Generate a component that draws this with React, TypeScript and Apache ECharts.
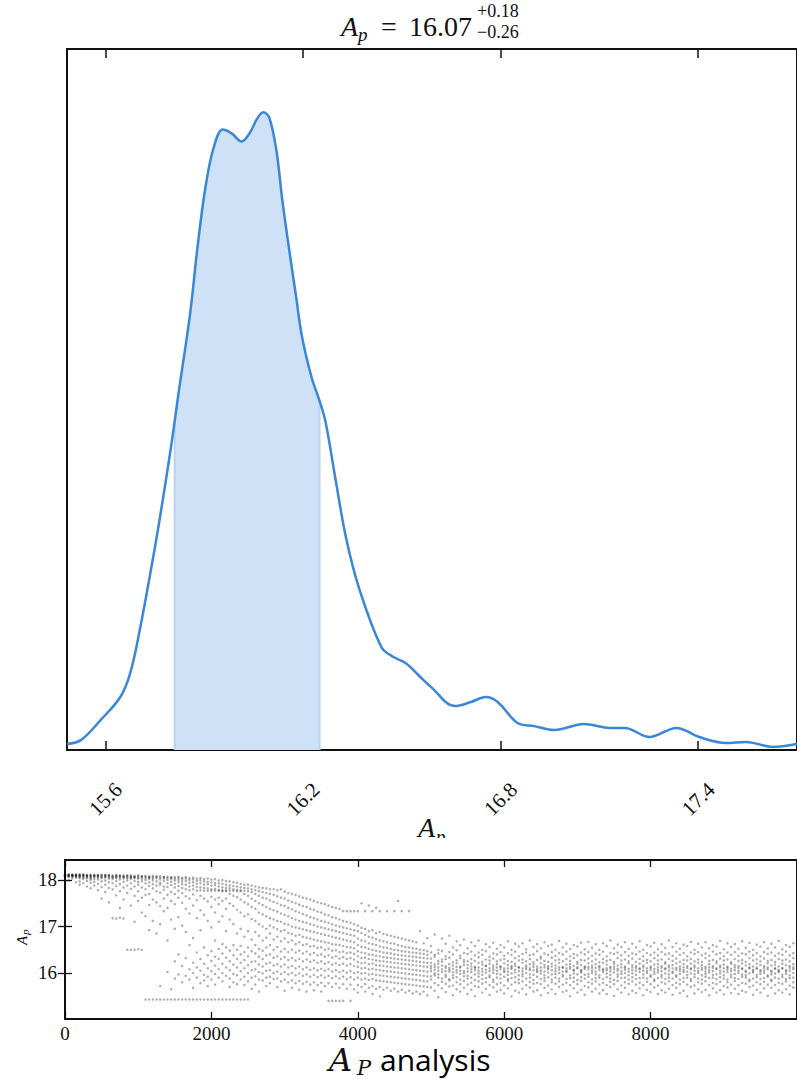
import React, { useEffect, useRef } from "react";
import * as echarts from "echarts";

// ---- Top panel: posterior density of A_p ----
const kdeX = [15.483, 15.525, 15.585, 15.645, 15.675, 15.704, 15.734, 15.764, 15.796, 15.81, 15.82, 15.857, 15.88, 15.902, 15.926, 15.956, 15.983, 16.013, 16.037, 16.061, 16.079, 16.097, 16.119, 16.137, 16.158, 16.179, 16.197, 16.227, 16.25, 16.269, 16.299, 16.33, 16.369, 16.438, 16.475, 16.511, 16.55, 16.589, 16.661, 16.71, 16.755, 16.791, 16.851, 16.902, 16.963, 17.053, 17.132, 17.177, 17.252, 17.334, 17.403, 17.484, 17.545, 17.626, 17.7];
const kdeY = [0.023, 0.038, 0.115, 0.204, 0.296, 0.462, 0.666, 0.885, 1.143, 1.266, 1.359, 1.682, 1.944, 2.155, 2.309, 2.39, 2.375, 2.344, 2.375, 2.433, 2.456, 2.437, 2.309, 2.117, 1.925, 1.744, 1.59, 1.43, 1.345, 1.259, 1.039, 0.82, 0.627, 0.396, 0.358, 0.335, 0.289, 0.242, 0.169, 0.185, 0.204, 0.185, 0.104, 0.092, 0.077, 0.1, 0.085, 0.085, 0.05, 0.085, 0.05, 0.027, 0.031, 0.012, 0.023];
const apMedian = 16.07;
const apLow = 15.81;
const apHigh = 16.25;
const topTicks = [15.6, 16.2, 16.8, 17.4];

// ---- Bottom panel: MCMC trace of A_p (step, values seen at that step) ----
const bottomXTicks = [0, 2000, 4000, 6000, 8000];
const bottomYTicks = [16, 17, 18];
const traceSamples: [number, number[]][] = [
  [0, [18.1, 18.11, 18.09, 18.12, 18.1, 18.08, 18.11, 18.07]],
  [50, [18.11, 18.09, 18.1, 18.12, 18.08, 18.1, 18.06, 17.99]],
  [100, [18.1, 18.12, 18.08, 18.09, 18.11, 18.1, 18.07, 18.03]],
  [150, [18.09, 18.11, 18.1, 18.07, 18.12, 18.08, 18.05, 17.95]],
  [200, [18.1, 18.08, 18.11, 18.09, 18.06, 18.12, 18.04, 17.97, 17.9]],
  [250, [18.11, 18.09, 18.07, 18.1, 18.05, 18.12, 18.02, 17.93]],
  [300, [18.1, 18.08, 18.06, 18.11, 18.09, 18.04, 17.98, 17.86]],
  [350, [18.09, 18.11, 18.07, 18.1, 18.05, 18.03, 17.94, 17.82, 18.0]],
  [400, [18.1, 18.08, 18.11, 18.06, 18.09, 18.02, 17.96, 17.88]],
  [450, [18.11, 18.07, 18.09, 18.05, 18.1, 18.01, 17.92, 17.78]],
  [500, [18.1, 18.08, 18.06, 18.11, 18.04, 17.97, 17.85, 17.6]],
  [550, [18.09, 18.11, 18.07, 18.05, 18.1, 17.99, 17.9, 17.74]],
  [600, [18.1, 18.08, 18.06, 18.03, 18.11, 17.95, 17.83, 17.52]],
  [650, [18.08, 18.1, 18.05, 18.07, 18.02, 17.93, 17.8, 17.18]],
  [700, [18.09, 18.11, 18.06, 18.04, 18.08, 17.98, 17.87, 17.67, 17.17]],
  [750, [18.1, 18.07, 18.05, 18.09, 18.01, 17.91, 17.76, 17.4, 17.19]],
  [800, [18.08, 18.1, 18.06, 18.03, 18.07, 17.96, 17.84, 17.58, 17.17]],
  [850, [18.09, 18.06, 18.1, 18.04, 17.99, 17.88, 17.72, 16.5]],
  [900, [18.08, 18.05, 18.1, 18.02, 18.06, 17.93, 17.81, 17.45, 16.5]],
  [950, [18.07, 18.09, 18.04, 18.06, 17.98, 17.86, 17.66, 17.1, 16.5]],
  [1000, [18.08, 18.05, 18.1, 18.03, 17.96, 17.9, 17.76, 17.55, 16.51]],
  [1050, [18.09, 18.06, 18.02, 18.07, 17.97, 17.84, 17.62, 17.3, 16.5]],
  [1100, [18.07, 18.04, 18.09, 18.0, 17.93, 17.8, 17.68, 17.22, 15.43]],
  [1150, [18.08, 18.05, 18.02, 18.06, 17.95, 17.87, 17.7, 17.46, 16.92, 15.43]],
  [1200, [18.06, 18.09, 18.03, 17.99, 17.91, 17.82, 17.58, 17.12, 15.43]],
  [1250, [18.07, 18.04, 18.08, 17.97, 17.88, 17.76, 17.52, 16.85, 15.43]],
  [1300, [18.05, 18.08, 18.01, 17.94, 17.9, 17.73, 17.44, 17.05, 15.43, 15.72]],
  [1350, [18.06, 18.03, 18.07, 17.98, 17.86, 17.79, 17.6, 17.33, 15.43]],
  [1400, [18.04, 18.07, 18.0, 17.93, 17.85, 17.68, 17.4, 16.7, 15.43, 16.02]],
  [1450, [18.05, 18.02, 18.06, 17.96, 17.89, 17.74, 17.55, 17.15, 15.43, 15.65]],
  [1500, [18.06, 18.03, 17.99, 17.92, 17.84, 17.7, 17.48, 16.95, 16.25, 15.43, 15.88]],
  [1550, [18.04, 18.07, 18.0, 17.95, 17.87, 17.77, 17.62, 17.2, 16.4, 15.43, 15.97]],
  [1600, [18.05, 18.02, 17.97, 17.91, 17.83, 17.72, 17.51, 17.02, 16.15, 15.43, 15.8]],
  [1650, [18.03, 18.06, 17.98, 17.9, 17.8, 17.65, 17.38, 16.88, 16.32, 15.94, 15.43]],
  [1700, [18.04, 18.0, 17.94, 17.86, 17.78, 17.6, 17.28, 16.6, 16.08, 15.86, 15.43]],
  [1750, [18.05, 18.01, 17.95, 17.88, 17.8, 17.69, 17.45, 16.75, 16.22, 16.0, 15.43, 15.68]],
  [1800, [18.03, 17.98, 17.92, 17.85, 17.77, 17.57, 17.18, 16.44, 16.12, 15.9, 15.43]],
  [1850, [18.04, 17.99, 17.93, 17.84, 17.78, 17.66, 17.35, 16.92, 16.3, 16.05, 15.78, 15.43]],
  [1900, [18.02, 17.97, 17.9, 17.83, 17.77, 17.6, 17.25, 16.55, 16.2, 15.96, 15.84, 15.43]],
  [1950, [18.03, 17.96, 17.91, 17.82, 17.77, 17.54, 17.12, 16.38, 16.1, 15.92, 15.72, 15.43]],
  [2000, [18.01, 17.95, 17.88, 17.8, 17.77, 17.64, 17.42, 16.98, 16.47, 16.26, 16.04, 15.86, 15.43]],
  [2050, [18.02, 17.94, 17.89, 17.81, 17.77, 17.58, 17.3, 16.7, 16.35, 16.16, 15.98, 15.75, 15.43]],
  [2100, [17.99, 17.93, 17.86, 17.79, 17.77, 17.62, 17.48, 17.1, 16.52, 16.3, 16.08, 15.9, 15.43]],
  [2150, [18.0, 17.92, 17.84, 17.78, 17.76, 17.55, 17.22, 16.62, 16.42, 16.2, 16.0, 15.82, 15.43]],
  [2200, [17.98, 17.9, 17.83, 17.78, 17.76, 17.6, 17.38, 16.9, 16.55, 16.33, 16.12, 15.94, 15.43]],
  [2250, [17.97, 17.88, 17.82, 17.77, 17.7, 17.5, 17.15, 16.48, 16.25, 16.06, 15.88, 15.7, 15.43]],
  [2300, [17.95, 17.87, 17.8, 17.77, 17.66, 17.44, 17.05, 16.6, 16.38, 16.18, 15.98, 15.8, 15.43]],
  [2350, [17.94, 17.86, 17.79, 17.76, 17.63, 17.36, 16.85, 16.5, 16.3, 16.12, 15.95, 15.76, 15.43]],
  [2400, [17.92, 17.84, 17.78, 17.76, 17.58, 17.3, 16.95, 16.58, 16.4, 16.22, 16.04, 15.86, 15.43]],
  [2450, [17.9, 17.83, 17.77, 17.7, 17.52, 17.22, 16.78, 16.45, 16.28, 16.1, 15.92, 15.74, 15.43]],
  [2500, [17.9, 17.82, 17.76, 17.66, 17.48, 17.26, 16.9, 16.55, 16.36, 16.17, 16.0, 15.82, 15.43]],
  [2550, [17.88, 17.8, 17.74, 17.6, 17.42, 17.16, 16.72, 16.47, 16.24, 16.06, 15.9, 15.66]],
  [2600, [17.86, 17.78, 17.7, 17.55, 17.38, 17.12, 16.88, 16.6, 16.42, 16.25, 16.08, 15.93, 15.75]],
  [2650, [17.84, 17.76, 17.66, 17.5, 17.3, 17.05, 16.8, 16.52, 16.35, 16.18, 16.02, 15.86, 15.6]],
  [2700, [17.83, 17.74, 17.62, 17.46, 17.26, 17.0, 16.7, 16.48, 16.3, 16.14, 15.99, 15.84]],
  [2750, [17.82, 17.72, 17.6, 17.42, 17.22, 16.95, 16.76, 16.55, 16.38, 16.2, 16.05, 15.9, 15.72]],
  [2800, [17.8, 17.7, 17.56, 17.38, 17.18, 17.02, 16.85, 16.6, 16.4, 16.22, 16.06, 15.92, 15.78]],
  [2850, [17.8, 17.68, 17.53, 17.35, 17.15, 16.98, 16.72, 16.5, 16.33, 16.16, 16.0, 15.87]],
  [2900, [17.78, 17.65, 17.5, 17.32, 17.12, 16.94, 16.78, 16.56, 16.36, 16.19, 16.03, 15.88, 15.7]],
  [2950, [17.8, 17.62, 17.46, 17.28, 17.1, 16.9, 16.68, 16.46, 16.3, 16.14, 15.98, 15.82]],
  [3000, [17.75, 17.6, 17.44, 17.25, 17.06, 16.92, 16.74, 16.52, 16.34, 16.18, 16.02, 15.86, 15.62]],
  [3050, [17.72, 17.56, 17.4, 17.22, 17.04, 16.86, 16.66, 16.45, 16.28, 16.12, 15.97, 15.8]],
  [3100, [17.7, 17.53, 17.37, 17.18, 17.0, 16.84, 16.7, 16.5, 16.32, 16.15, 16.0, 15.84, 15.68]],
  [3150, [17.68, 17.5, 17.33, 17.15, 16.98, 16.8, 16.62, 16.44, 16.27, 16.1, 15.95, 15.78]],
  [3200, [17.65, 17.47, 17.3, 17.12, 16.96, 16.82, 16.66, 16.48, 16.3, 16.14, 15.99, 15.83, 15.64]],
  [3250, [17.62, 17.44, 17.27, 17.1, 16.94, 16.78, 16.6, 16.42, 16.25, 16.08, 15.94, 15.77]],
  [3300, [17.6, 17.42, 17.24, 17.08, 16.92, 16.76, 16.62, 16.46, 16.29, 16.12, 15.97, 15.81, 15.6]],
  [3350, [17.58, 17.38, 17.2, 17.05, 16.9, 16.74, 16.57, 16.4, 16.24, 16.07, 15.92, 15.75]],
  [3400, [17.55, 17.36, 17.18, 17.03, 16.88, 16.72, 16.58, 16.43, 16.27, 16.1, 15.96, 15.8, 15.63]],
  [3450, [17.52, 17.32, 17.15, 17.0, 16.86, 16.7, 16.54, 16.38, 16.22, 16.06, 15.91, 15.74]],
  [3500, [17.5, 17.3, 17.12, 16.98, 16.84, 16.68, 16.55, 16.4, 16.25, 16.09, 15.95, 15.79, 15.6]],
  [3550, [17.48, 17.26, 17.1, 16.96, 16.82, 16.66, 16.5, 16.35, 16.2, 16.05, 15.9, 15.72]],
  [3600, [17.45, 17.24, 17.08, 16.94, 16.8, 16.65, 16.52, 16.38, 16.23, 16.08, 15.94, 15.78, 15.4]],
  [3650, [17.42, 17.2, 17.05, 16.92, 16.78, 16.62, 16.48, 16.33, 16.18, 16.03, 15.89, 15.7, 15.4]],
  [3700, [17.4, 17.18, 17.02, 16.9, 16.76, 16.61, 16.49, 16.36, 16.21, 16.06, 15.93, 15.77, 15.4]],
  [3750, [17.38, 17.15, 17.0, 16.88, 16.74, 16.6, 16.45, 16.31, 16.17, 16.02, 15.88, 15.68, 15.4]],
  [3800, [17.33, 17.12, 16.98, 16.86, 16.72, 16.58, 16.46, 16.34, 16.2, 16.05, 15.92, 15.76, 15.4]],
  [3850, [17.33, 17.1, 16.96, 16.84, 16.7, 16.56, 16.43, 16.3, 16.16, 16.01, 15.87, 15.66]],
  [3900, [17.33, 17.08, 16.94, 16.82, 16.68, 16.55, 16.44, 16.32, 16.19, 16.04, 15.91, 15.75, 15.4]],
  [3950, [17.33, 17.05, 16.92, 16.8, 16.66, 16.53, 16.41, 16.29, 16.15, 16.0, 15.86, 15.65]],
  [4000, [17.33, 17.02, 16.9, 16.74, 16.6, 16.47, 16.36, 16.24, 16.13, 16.02, 15.9, 15.74, 15.58]],
  [4050, [17.5, 16.97, 16.86, 16.7, 16.56, 16.44, 16.32, 16.21, 16.1, 15.99, 15.86, 15.7]],
  [4100, [17.33, 16.95, 16.82, 16.68, 16.55, 16.43, 16.33, 16.22, 16.11, 16.0, 15.88, 15.76, 15.6]],
  [4150, [17.45, 16.9, 16.78, 16.64, 16.52, 16.4, 16.3, 16.19, 16.08, 15.97, 15.85, 15.68]],
  [4200, [17.33, 16.92, 16.76, 16.62, 16.5, 16.39, 16.29, 16.2, 16.09, 15.98, 15.87, 15.72, 15.55]],
  [4250, [17.4, 16.86, 16.73, 16.6, 16.48, 16.37, 16.27, 16.17, 16.07, 15.96, 15.84, 15.66]],
  [4300, [17.33, 16.88, 16.7, 16.57, 16.46, 16.36, 16.26, 16.16, 16.06, 15.95, 15.83, 15.7, 15.5]],
  [4350, [16.84, 16.68, 16.55, 16.44, 16.34, 16.25, 16.15, 16.05, 15.94, 15.82, 15.64]],
  [4400, [17.33, 16.82, 16.66, 16.54, 16.43, 16.33, 16.24, 16.14, 16.04, 15.93, 15.81, 15.68]],
  [4450, [16.8, 16.64, 16.52, 16.42, 16.32, 16.23, 16.13, 16.03, 15.92, 15.8, 15.62]],
  [4500, [17.33, 16.78, 16.63, 16.5, 16.4, 16.31, 16.22, 16.12, 16.02, 15.91, 15.79, 15.66]],
  [4550, [17.55, 16.76, 16.6, 16.49, 16.39, 16.3, 16.21, 16.11, 16.01, 15.9, 15.78, 15.6]],
  [4600, [17.33, 16.74, 16.58, 16.47, 16.38, 16.29, 16.2, 16.1, 16.0, 15.89, 15.77, 15.64]],
  [4650, [16.72, 16.56, 16.46, 16.37, 16.28, 16.19, 16.09, 15.99, 15.88, 15.76, 15.58]],
  [4700, [17.33, 16.7, 16.55, 16.45, 16.36, 16.27, 16.18, 16.08, 15.98, 15.87, 15.75, 15.62]],
  [4750, [16.68, 16.53, 16.44, 16.35, 16.26, 16.17, 16.07, 15.97, 15.86, 15.74, 15.56]],
  [4800, [16.66, 16.52, 16.43, 16.34, 16.25, 16.16, 16.06, 15.96, 15.85, 15.73, 15.6]],
  [4850, [16.9, 16.5, 16.42, 16.33, 16.24, 16.15, 16.05, 15.95, 15.84, 15.72, 15.55]],
  [4900, [16.64, 16.49, 16.41, 16.32, 16.23, 16.14, 16.04, 15.94, 15.83, 15.71, 15.6]],
  [4950, [16.75, 16.47, 16.39, 16.31, 16.22, 16.13, 16.03, 15.93, 15.82, 15.7, 15.52]],
  [5000, [16.58, 16.44, 16.31, 16.22, 16.1, 16.04, 15.93, 15.86, 15.69, 16.15]],
  [5050, [16.83, 16.39, 16.35, 16.18, 16.13, 15.99, 15.95, 15.78, 15.62, 16.07]],
  [5100, [16.5, 16.42, 16.26, 16.2, 16.05, 15.97, 15.9, 15.74, 15.48, 16.12]],
  [5150, [16.74, 16.47, 16.29, 16.24, 16.08, 16.02, 15.88, 15.81, 15.67, 16.16]],
  [5200, [16.63, 16.36, 16.3, 16.15, 16.11, 15.96, 15.92, 15.77, 15.59, 16.04]],
  [5250, [16.8, 16.45, 16.33, 16.19, 16.07, 16.03, 15.87, 15.84, 15.71, 16.11]],
  [5300, [16.55, 16.4, 16.23, 16.16, 16.09, 15.95, 15.89, 15.73, 15.52, 16.02]],
  [5350, [16.68, 16.49, 16.27, 16.21, 16.06, 16.01, 15.91, 15.8, 15.65, 16.13]],
  [5400, [16.6, 16.37, 16.32, 16.14, 16.12, 15.98, 15.86, 15.76, 15.6, 16.05]],
  [5450, [16.72, 16.43, 16.28, 16.23, 16.04, 16.0, 15.93, 15.83, 15.68, 16.17]],
  [5500, [16.53, 16.41, 16.25, 16.17, 16.1, 15.94, 15.88, 15.75, 15.55, 16.03]],
  [5550, [16.66, 16.46, 16.3, 16.2, 16.08, 16.02, 15.9, 15.79, 15.64, 16.14]],
  [5600, [16.58, 16.38, 16.26, 16.13, 16.11, 15.97, 15.85, 15.72, 15.5, 16.06]],
  [5650, [16.7, 16.44, 16.34, 16.22, 16.05, 15.99, 15.92, 15.82, 15.7, 16.12]],
  [5700, [16.5, 16.39, 16.24, 16.18, 16.09, 15.96, 15.87, 15.77, 15.58, 16.03]],
  [5750, [16.62, 16.47, 16.29, 16.15, 16.07, 16.01, 15.89, 15.8, 15.66, 16.16]],
  [5800, [16.56, 16.35, 16.27, 16.2, 16.1, 15.95, 15.91, 15.74, 15.53, 16.04]],
  [5850, [16.65, 16.42, 16.31, 16.16, 16.06, 16.0, 15.86, 15.81, 15.69, 16.11]],
  [5900, [16.52, 16.4, 16.25, 16.19, 16.12, 15.98, 15.9, 15.76, 15.6, 16.05]],
  [5950, [16.6, 16.45, 16.28, 16.14, 16.08, 15.97, 15.88, 15.79, 15.64, 16.13]],
  [6000, [16.55, 16.37, 16.3, 16.21, 16.05, 16.02, 15.92, 15.73, 15.56, 16.1]],
  [6050, [16.68, 16.43, 16.26, 16.17, 16.1, 15.96, 15.87, 15.83, 15.67, 16.03]],
  [6100, [16.5, 16.39, 16.24, 16.15, 16.09, 15.99, 15.89, 15.75, 15.5, 16.12]],
  [6150, [16.63, 16.46, 16.32, 16.2, 16.07, 16.01, 15.91, 15.8, 15.62, 16.15]],
  [6200, [16.57, 16.36, 16.27, 16.13, 16.11, 15.95, 15.86, 15.78, 15.58, 16.04]],
  [6250, [16.64, 16.41, 16.29, 16.22, 16.04, 15.98, 15.93, 15.82, 15.66, 16.1]],
  [6300, [16.51, 16.44, 16.25, 16.16, 16.08, 16.0, 15.88, 15.74, 15.54, 16.12]],
  [6350, [16.7, 16.38, 16.3, 16.19, 16.1, 15.97, 15.9, 15.81, 15.69, 16.06]],
  [6400, [16.56, 16.4, 16.23, 16.18, 16.06, 15.96, 15.85, 15.77, 15.6, 16.13]],
  [6450, [16.62, 16.47, 16.28, 16.14, 16.09, 16.02, 15.92, 15.79, 15.63, 16.05]],
  [6500, [16.53, 16.35, 16.31, 16.21, 16.05, 15.99, 15.87, 15.76, 15.52, 16.12]],
  [6550, [16.66, 16.42, 16.26, 16.17, 16.12, 15.95, 15.89, 15.83, 15.68, 16.03]],
  [6600, [16.58, 16.39, 16.24, 16.15, 16.08, 16.01, 15.91, 15.73, 15.57, 16.11]],
  [6650, [16.61, 16.45, 16.33, 16.2, 16.06, 15.97, 15.86, 15.8, 15.65, 16.14]],
  [6700, [16.5, 16.37, 16.27, 16.16, 16.1, 15.98, 15.9, 15.77, 15.55, 16.04]],
  [6750, [16.69, 16.43, 16.29, 16.22, 16.07, 16.0, 15.88, 15.82, 15.7, 16.12]],
  [6800, [16.55, 16.4, 16.25, 16.13, 16.11, 15.96, 15.92, 15.75, 15.59, 16.03]],
  [6850, [16.63, 16.46, 16.3, 16.18, 16.05, 16.02, 15.87, 15.79, 15.62, 16.1]],
  [6900, [16.52, 16.36, 16.26, 16.19, 16.09, 15.95, 15.89, 15.74, 15.5, 16.13]],
  [6950, [16.6, 16.41, 16.32, 16.15, 16.07, 15.99, 15.9, 15.81, 15.67, 16.05]],
  [7000, [16.57, 16.38, 16.24, 16.2, 16.1, 15.97, 15.85, 15.76, 15.58, 16.12]],
  [7050, [16.65, 16.44, 16.28, 16.17, 16.06, 16.01, 15.91, 15.83, 15.64, 16.04]],
  [7100, [16.51, 16.4, 16.27, 16.14, 16.12, 15.96, 15.88, 15.72, 15.53, 16.09]],
  [7150, [16.67, 16.45, 16.31, 16.21, 16.08, 15.98, 15.92, 15.8, 15.69, 16.13]],
  [7200, [16.54, 16.37, 16.25, 16.16, 16.05, 16.0, 15.86, 15.77, 15.6, 16.11]],
  [7250, [16.62, 16.42, 16.29, 16.19, 16.11, 15.97, 15.89, 15.82, 15.66, 16.03]],
  [7300, [16.5, 16.39, 16.23, 16.15, 16.07, 15.95, 15.9, 15.75, 15.56, 16.12]],
  [7350, [16.64, 16.46, 16.3, 16.22, 16.09, 16.02, 15.87, 15.79, 15.63, 16.06]],
  [7400, [16.58, 16.36, 16.26, 16.18, 16.06, 15.99, 15.91, 15.74, 15.55, 16.1]],
  [7450, [16.7, 16.43, 16.28, 16.13, 16.1, 15.96, 15.88, 15.81, 15.7, 16.04]],
  [7500, [16.53, 16.41, 16.24, 16.2, 16.08, 16.01, 15.85, 15.76, 15.51, 16.13]],
  [7550, [16.61, 16.44, 16.32, 16.16, 16.05, 15.97, 15.92, 15.83, 15.65, 16.09]],
  [7600, [16.56, 16.38, 16.27, 16.19, 16.12, 15.98, 15.89, 15.73, 15.58, 16.04]],
  [7650, [16.66, 16.45, 16.29, 16.14, 16.07, 16.0, 15.9, 15.8, 15.68, 16.11]],
  [7700, [16.52, 16.37, 16.25, 16.21, 16.09, 15.95, 15.86, 15.77, 15.54, 16.03]],
  [7750, [16.63, 16.42, 16.31, 16.17, 16.06, 15.99, 15.91, 15.82, 15.62, 16.12]],
  [7800, [16.55, 16.4, 16.24, 16.15, 16.11, 15.96, 15.87, 15.75, 15.57, 16.05]],
  [7850, [16.68, 16.46, 16.3, 16.2, 16.08, 16.02, 15.89, 15.79, 15.67, 16.1]],
  [7900, [16.5, 16.36, 16.26, 16.16, 16.05, 15.97, 15.9, 15.74, 15.52, 16.12]],
  [7950, [16.6, 16.43, 16.28, 16.22, 16.1, 16.0, 15.88, 15.81, 15.64, 16.04]],
  [8000, [16.57, 16.39, 16.25, 16.14, 16.07, 15.95, 15.92, 15.76, 15.59, 16.11]],
  [8050, [16.65, 16.44, 16.32, 16.18, 16.09, 15.98, 15.86, 15.83, 15.69, 16.03]],
  [8100, [16.51, 16.38, 16.27, 16.19, 16.06, 16.01, 15.89, 15.73, 15.55, 16.12]],
  [8150, [16.62, 16.45, 16.29, 16.15, 16.11, 15.96, 15.91, 15.8, 15.63, 16.04]],
  [8200, [16.54, 16.4, 16.23, 16.2, 16.08, 15.99, 15.87, 15.77, 15.58, 16.1]],
  [8250, [16.7, 16.42, 16.3, 16.16, 16.05, 15.97, 15.9, 15.82, 15.66, 16.12]],
  [8300, [16.56, 16.37, 16.26, 16.17, 16.1, 16.0, 15.88, 15.74, 15.53, 16.03]],
  [8350, [16.64, 16.46, 16.31, 16.21, 16.07, 15.95, 15.92, 15.79, 15.68, 16.11]],
  [8400, [16.52, 16.39, 16.24, 16.14, 16.09, 15.98, 15.86, 15.76, 15.57, 16.05]],
  [8450, [16.61, 16.43, 16.28, 16.19, 16.06, 16.02, 15.89, 15.81, 15.62, 16.12]],
  [8500, [16.58, 16.36, 16.27, 16.15, 16.11, 15.96, 15.9, 15.75, 15.5, 16.03]],
  [8550, [16.67, 16.44, 16.3, 16.2, 16.08, 15.99, 15.87, 15.83, 15.7, 16.1]],
  [8600, [16.5, 16.41, 16.25, 16.16, 16.05, 15.97, 15.91, 15.73, 15.56, 16.12]],
  [8650, [16.63, 16.45, 16.29, 16.22, 16.1, 16.0, 15.88, 15.8, 15.65, 16.04]],
  [8700, [16.55, 16.38, 16.24, 16.17, 16.07, 15.95, 15.86, 15.77, 15.59, 16.11]],
  [8750, [16.66, 16.42, 16.32, 16.13, 16.09, 15.98, 15.92, 15.82, 15.64, 16.03]],
  [8800, [16.53, 16.37, 16.26, 16.19, 16.06, 16.01, 15.89, 15.74, 15.52, 16.12]],
  [8850, [16.6, 16.46, 16.28, 16.15, 16.11, 15.96, 15.9, 15.79, 15.67, 16.04]],
  [8900, [16.57, 16.4, 16.25, 16.21, 16.08, 15.97, 15.87, 15.76, 15.58, 16.1]],
  [8950, [16.69, 16.43, 16.31, 16.16, 16.05, 15.99, 15.91, 15.81, 15.63, 16.12]],
  [9000, [16.51, 16.36, 16.27, 16.18, 16.1, 15.95, 15.88, 15.72, 15.54, 16.03]],
  [9050, [16.64, 16.44, 16.29, 16.14, 16.07, 16.02, 15.86, 15.8, 15.69, 16.11]],
  [9100, [16.56, 16.39, 16.23, 16.2, 16.09, 15.96, 15.91, 15.75, 15.57, 16.04]],
  [9150, [16.62, 16.45, 16.3, 16.17, 16.06, 15.98, 15.89, 15.83, 15.66, 16.12]],
  [9200, [16.52, 16.37, 16.26, 16.15, 16.11, 16.0, 15.87, 15.74, 15.55, 16.05]],
  [9250, [16.68, 16.42, 16.28, 16.21, 16.08, 15.97, 15.92, 15.79, 15.62, 16.1]],
  [9300, [16.54, 16.4, 16.24, 16.16, 16.05, 15.95, 15.9, 15.77, 15.59, 16.02]],
  [9350, [16.65, 16.46, 16.32, 16.19, 16.1, 15.99, 15.86, 15.82, 15.7, 16.12]],
  [9400, [16.5, 16.38, 16.27, 16.14, 16.07, 16.01, 15.88, 15.73, 15.53, 16.04]],
  [9450, [16.61, 16.43, 16.29, 16.2, 16.09, 15.96, 15.91, 15.8, 15.64, 16.11]],
  [9500, [16.57, 16.36, 16.25, 16.17, 16.06, 15.98, 15.87, 15.76, 15.58, 16.03]],
  [9550, [16.66, 16.45, 16.31, 16.15, 16.11, 16.0, 15.89, 15.81, 15.67, 16.05]],
  [9600, [16.53, 16.41, 16.26, 16.21, 16.08, 15.95, 15.92, 15.75, 15.51, 16.12]],
  [9650, [16.63, 16.44, 16.28, 16.16, 16.05, 15.97, 15.86, 15.83, 15.68, 16.02]],
  [9700, [16.55, 16.37, 16.24, 16.18, 16.1, 15.99, 15.9, 15.74, 15.56, 16.09]],
  [9750, [16.69, 16.42, 16.3, 16.14, 16.07, 16.02, 15.88, 15.79, 15.63, 16.04]],
  [9800, [16.51, 16.39, 16.27, 16.2, 16.09, 15.96, 15.91, 15.77, 15.58, 16.11]],
  [9850, [16.6, 16.46, 16.29, 16.17, 16.06, 15.98, 15.87, 15.82, 15.65, 16.03]],
  [9900, [16.56, 16.38, 16.25, 16.15, 16.11, 15.95, 15.89, 15.73, 15.54, 16.05]],
  [9950, [16.64, 16.43, 16.32, 16.19, 16.08, 16.0, 15.9, 15.8, 15.69, 16.12]],
];

const SERIF = "Liberation Serif, DejaVu Serif, serif";
const MATH_ITALIC = "DejaVu Serif, Liberation Serif, serif";
const SANS = "Open Sans, Noto Sans, sans-serif";
const INK = "#111";

function ticksAxis(extra: any) {
  return {
    type: "value",
    splitLine: { show: false },
    axisLine: { show: false },
    ...extra,
  };
}

export default function App() {
  const ref = useRef<HTMLDivElement>(null);

  useEffect(() => {
    if (!ref.current) return;
    const chart = echarts.init(ref.current, null, { renderer: "svg" });

    const kdeData = kdeX.map((x, i) => [x, kdeY[i]]);
    const fillData = kdeData.filter((p) => p[0] >= apLow && p[0] <= apHigh);
    const lowIdx = kdeX.indexOf(apLow);
    const highIdx = kdeX.indexOf(apHigh);
    const scatterData: number[][] = [];
    traceSamples.forEach(([step, vals]) => vals.forEach((v) => scatterData.push([step, v])));

    const topTick = { inside: true, length: 9, lineStyle: { color: INK, width: 1.5 }, customValues: topTicks };
    const botTickX = { inside: true, length: 7, lineStyle: { color: INK, width: 1.3 }, customValues: bottomXTicks };
    const botTickY = { inside: true, length: 7, lineStyle: { color: INK, width: 1.3 }, customValues: bottomYTicks };

    const txt = (x: number, y: number, text: string, size: number, opts: any = {}) => ({
      type: "text",
      x,
      y,
      z: 50,
      style: {
        text,
        fontFamily: SERIF,
        fontSize: size,
        lineHeight: size,
        fill: INK,
        textAlign: "left",
        textVerticalAlign: "middle",
        ...opts,
      },
    });

    chart.setOption({
      animation: false,
      backgroundColor: "#fff",
      grid: [
        { left: 67, top: 49, width: 735, height: 701, show: true, borderColor: INK, borderWidth: 2 },
        { left: 65, top: 860, width: 737.5, height: 159, show: true, borderColor: INK, borderWidth: 2 },
      ],
      xAxis: [
        ticksAxis({
          gridIndex: 0,
          min: 15.483,
          max: 17.7,
          axisTick: topTick,
          axisLabel: {
            customValues: topTicks,
            rotate: 45,
            align: "center",
            verticalAlign: "middle",
            margin: 49,
            fontFamily: SERIF,
            fontSize: 21,
            color: INK,
          },
        }),
        ticksAxis({ gridIndex: 0, position: "top", min: 15.483, max: 17.7, axisTick: topTick, axisLabel: { show: false } }),
        ticksAxis({
          gridIndex: 1,
          min: 0,
          max: 10000,
          axisTick: botTickX,
          axisLabel: {
            customValues: bottomXTicks,
            formatter: (v: number) => String(v),
            margin: 5,
            fontFamily: SERIF,
            fontSize: 19,
            lineHeight: 19,
            color: INK,
          },
        }),
        ticksAxis({ gridIndex: 1, position: "top", min: 0, max: 10000, axisTick: botTickX, axisLabel: { show: false } }),
      ],
      yAxis: [
        ticksAxis({ gridIndex: 0, min: 0, max: 2.7, axisTick: { show: false }, axisLabel: { show: false } }),
        ticksAxis({
          gridIndex: 1,
          min: 15.01,
          max: 18.43,
          axisTick: botTickY,
          axisLabel: {
            customValues: bottomYTicks,
            formatter: (v: number) => String(v),
            margin: 8,
            fontFamily: SERIF,
            fontSize: 19,
            color: INK,
          },
        }),
        ticksAxis({ gridIndex: 1, position: "right", min: 15.01, max: 18.43, axisTick: botTickY, axisLabel: { show: false } }),
      ],
      series: [
        {
          name: "interval",
          type: "line",
          xAxisIndex: 0,
          yAxisIndex: 0,
          data: fillData,
          smooth: 0.35,
          showSymbol: false,
          lineStyle: { width: 0 },
          areaStyle: { color: "#cfe1f6", opacity: 1 },
          z: 1,
        },
        {
          name: "low edge",
          type: "line",
          xAxisIndex: 0,
          yAxisIndex: 0,
          data: [[apLow, 0], [apLow, kdeY[lowIdx]]],
          showSymbol: false,
          lineStyle: { color: "#b9d2f0", width: 2 },
          z: 2,
        },
        {
          name: "high edge",
          type: "line",
          xAxisIndex: 0,
          yAxisIndex: 0,
          data: [[apHigh, 0], [apHigh, kdeY[highIdx]]],
          showSymbol: false,
          lineStyle: { color: "#b9d2f0", width: 2 },
          z: 2,
        },
        {
          name: "density",
          type: "line",
          xAxisIndex: 0,
          yAxisIndex: 0,
          data: kdeData,
          smooth: 0.35,
          showSymbol: false,
          lineStyle: { color: "#3a86d9", width: 2.5 },
          z: 3,
        },
        {
          name: "trace",
          type: "scatter",
          xAxisIndex: 2,
          yAxisIndex: 1,
          data: scatterData,
          symbol: "circle",
          symbolSize: 2.5,
          itemStyle: { color: "rgba(0,0,0,0.4)" },
          z: 2,
        },
      ],
      graphic: [
        // title  A_p = 16.07 +0.18 / -0.26
        txt(341, 26, "A", 28, { fontStyle: "italic" }),
        txt(358, 34, "p", 19, { fontStyle: "italic" }),
        txt(381, 26, "=", 28),
        txt(409, 26, apMedian.toFixed(2), 28),
        txt(477, 11, "+" + (apHigh - apMedian).toFixed(2), 18),
        txt(477, 32, "\u2212" + (apMedian - apLow).toFixed(2), 18),
        // x-axis name of top panel
        txt(418, 827, "A", 28, { fontStyle: "italic" }),
        txt(436, 836, "p", 19, { fontStyle: "italic" }),
        { type: "rect", z: 60, shape: { x: 0, y: 838, width: 797, height: 19 }, style: { fill: "#fff" } },
        // y-axis name of bottom panel
        {
          type: "group",
          x: 22,
          y: 937,
          rotation: Math.PI / 2,
          z: 50,
          children: [
            txt(-8, 0, "A", 15, { fontStyle: "italic" }),
            txt(2, 3, "p", 11, { fontStyle: "italic" }),
          ],
        },
        // caption
        txt(329, 1060, "A", 32, { fontStyle: "italic", fontFamily: MATH_ITALIC }),
        txt(357, 1068, "P", 21, { fontStyle: "italic", fontFamily: MATH_ITALIC }),
        txt(380, 1059, "analysis", 30, { fontFamily: SANS, fill: "#000" }),
      ],
    });

    return () => chart.dispose();
  }, []);

  return (
    <div
      ref={ref}
      style={{ position: "absolute", left: 0, top: 0, width: 797, height: 1079, background: "#fff" }}
    />
  );
}
